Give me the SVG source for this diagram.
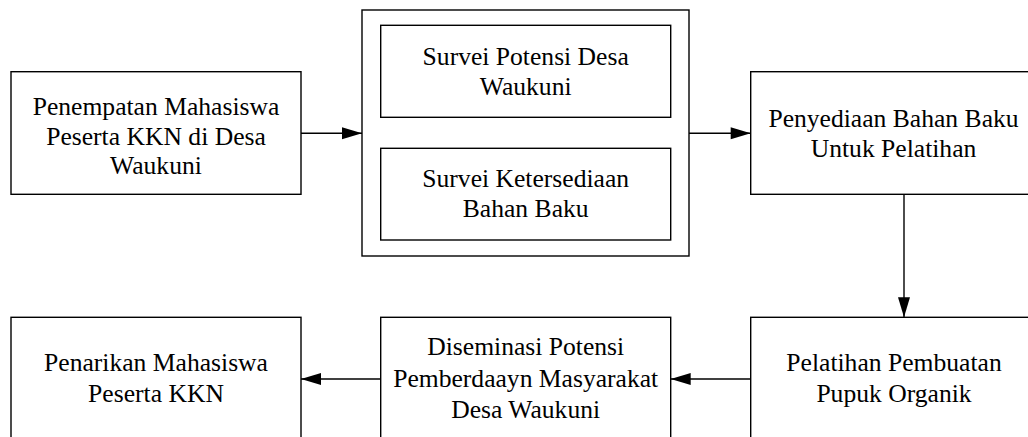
<svg xmlns="http://www.w3.org/2000/svg" width="1028" height="437" viewBox="0 0 1028 437">
<style>
.box{fill:#fff;stroke:#000;stroke-width:1.4}
.lbl{font-family:"Liberation Serif","Times New Roman",serif;font-size:25.6px;fill:#000;text-anchor:middle}
.con{fill:none;stroke:#000;stroke-width:1.4}
</style>
<defs>
<marker id="arr" markerUnits="userSpaceOnUse" markerWidth="20" markerHeight="12" refX="20" refY="6" orient="auto" overflow="visible">
<path d="M0,0 L20,6 L0,12 Z" fill="#000"/>
</marker>
</defs>
<rect width="1028" height="437" fill="#fff"/>
<g id="n1">
<rect class="box" x="11" y="71.7" width="290" height="122.6"/>
<text class="lbl" x="156" y="115">Penempatan Mahasiswa</text>
<text class="lbl" x="156" y="144.5">Peserta KKN di Desa</text>
<text class="lbl" x="156" y="174">Waukuni</text>
</g>
<g id="n2">
<rect class="box" x="362" y="10" width="327" height="246"/>
</g>
<g id="n2a">
<rect class="box" x="380.7" y="25.3" width="290" height="92"/>
<text class="lbl" x="525.7" y="64.5">Survei Potensi Desa</text>
<text class="lbl" x="525.7" y="95">Waukuni</text>
</g>
<g id="n2b">
<rect class="box" x="380.7" y="148.3" width="290" height="91.7"/>
<text class="lbl" x="525.7" y="186.5">Survei Ketersediaan</text>
<text class="lbl" x="525.7" y="217">Bahan Baku</text>
</g>
<g id="n3">
<rect class="box" x="750.7" y="71.7" width="287" height="122.6"/>
<text class="lbl" x="893.5" y="127">Penyediaan Bahan Baku</text>
<text class="lbl" x="893.5" y="157">Untuk Pelatihan</text>
</g>
<g id="n4">
<rect class="box" x="750.7" y="317.3" width="287" height="122.6"/>
<text class="lbl" x="894" y="370.7">Pelatihan Pembuatan</text>
<text class="lbl" x="894" y="401.7">Pupuk Organik</text>
</g>
<g id="n5">
<rect class="box" x="380.7" y="317.3" width="290" height="122.6"/>
<text class="lbl" x="525.7" y="355">Diseminasi Potensi</text>
<text class="lbl" x="525.7" y="386.5">Pemberdaayn Masyarakat</text>
<text class="lbl" x="525.7" y="418">Desa Waukuni</text>
</g>
<g id="n6">
<rect class="box" x="11" y="317.3" width="290" height="122.6"/>
<text class="lbl" x="156" y="370.7">Penarikan Mahasiswa</text>
<text class="lbl" x="156" y="401.7">Peserta KKN</text>
</g>
<g id="connectors">
<line class="con" x1="301" y1="133.3" x2="362" y2="133.3" marker-end="url(#arr)"/>
<line class="con" x1="689" y1="133.3" x2="750.7" y2="133.3" marker-end="url(#arr)"/>
<line class="con" x1="904" y1="194.3" x2="904" y2="317.3" marker-end="url(#arr)"/>
<line class="con" x1="750.7" y1="379" x2="670.7" y2="379" marker-end="url(#arr)"/>
<line class="con" x1="380.7" y1="379" x2="301" y2="379" marker-end="url(#arr)"/>
</g>
</svg>
